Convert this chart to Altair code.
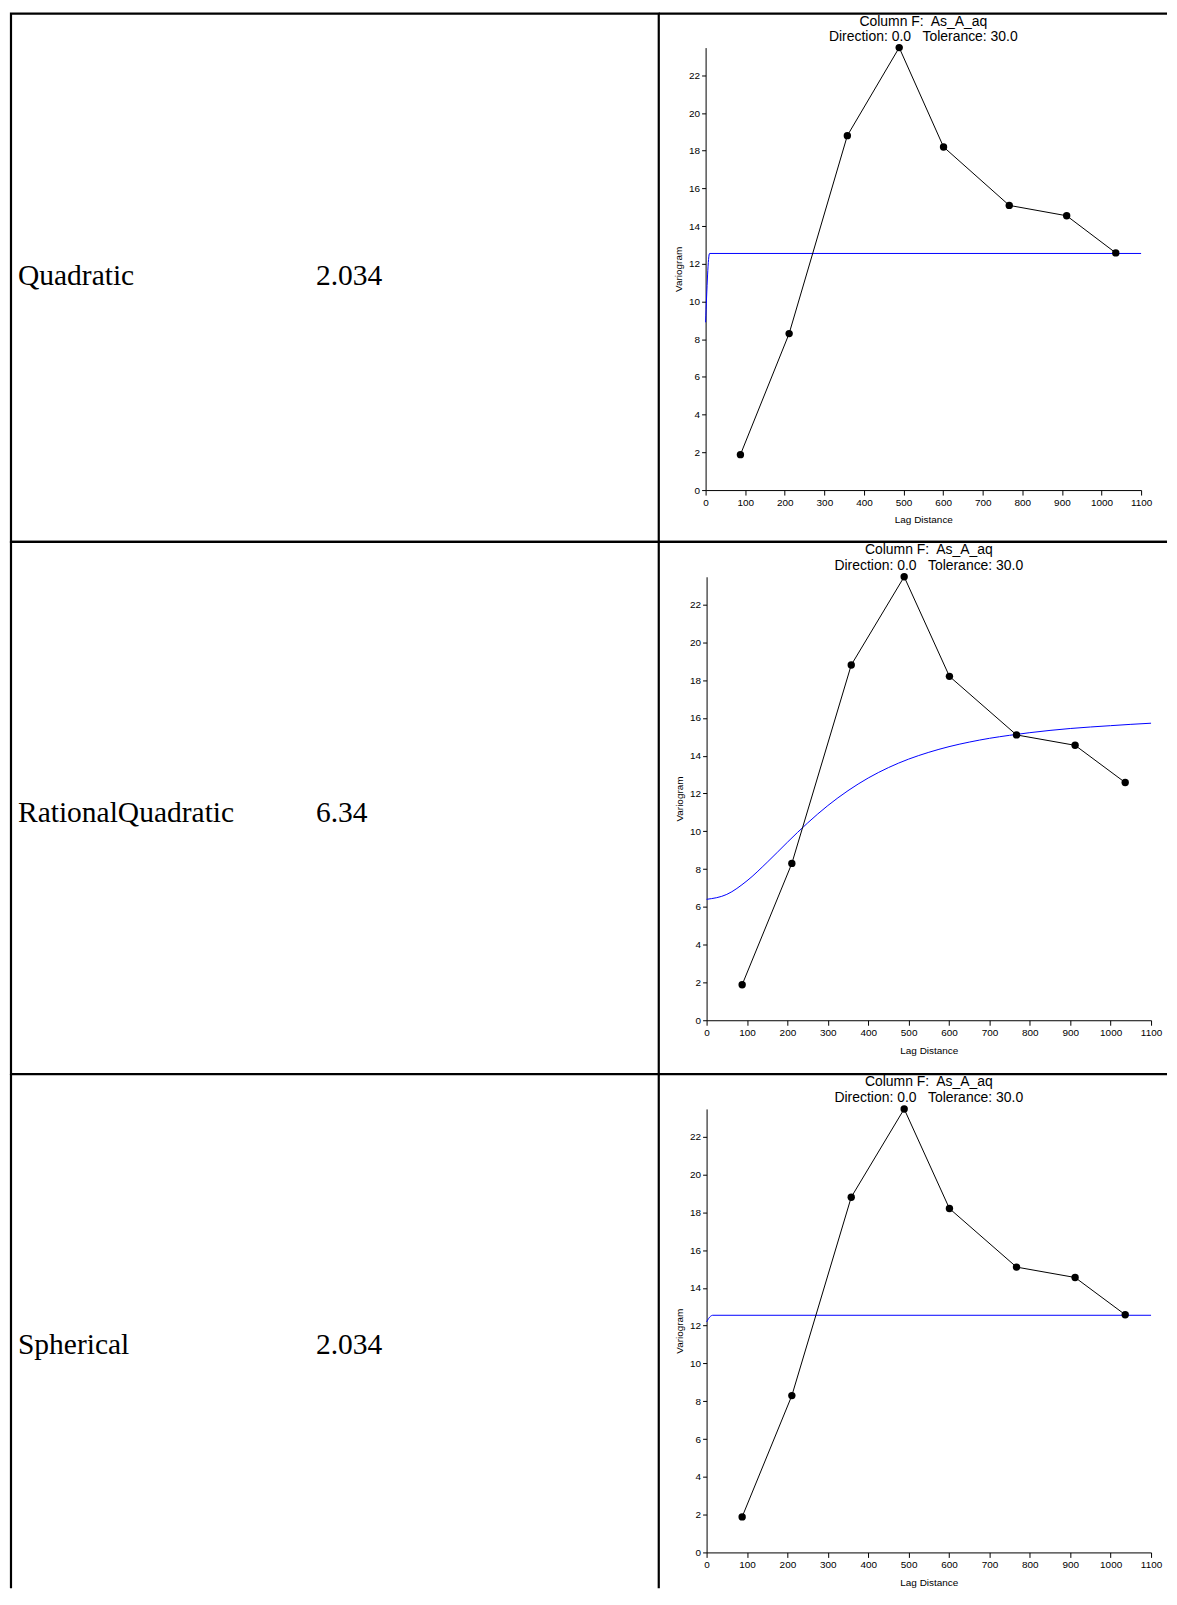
import altair as alt
import pandas as pd

# ---- data ----
lags = [88, 211, 358, 489, 601, 767, 912, 1036]
gammas = [1.88, 8.3, 18.8, 23.47, 18.2, 15.1, 14.55, 12.58]

models = ["Quadratic", "RationalQuadratic", "Spherical"]
scores = ["2.034", "6.34", "2.034"]

quad_lag = [0, 10, 1100]
quad_gamma = [8.9, 12.55, 12.55]

rq_lag = [0, 50, 100, 150, 200, 250, 300, 350, 400, 450, 500, 550,
          600, 650, 700, 750, 800, 850, 900, 950, 1000, 1050, 1100]
rq_gamma = [6.40, 6.66, 7.38, 8.36, 9.42, 10.44, 11.36, 12.15, 12.82, 13.37,
            13.82, 14.18, 14.48, 14.72, 14.92, 15.08, 15.22, 15.34, 15.44,
            15.52, 15.59, 15.66, 15.72]

sph_lag = [0, 5, 10, 15, 1100]
sph_gamma = [12.2, 12.38, 12.5, 12.55, 12.55]

x_ticks = [0, 100, 200, 300, 400, 500, 600, 700, 800, 900, 1000, 1100]
y_ticks = [0, 2, 4, 6, 8, 10, 12, 14, 16, 18, 20, 22]

title_line1 = "Column F:\u00a0 As_A_aq"
title_line2 = "Direction: 0.0\u00a0\u00a0 Tolerance: 30.0"

model_curves = [(quad_lag, quad_gamma), (rq_lag, rq_gamma), (sph_lag, sph_gamma)]

# ---- layout ----
HS = [530, 534, 516]          # row heights
WL = 650
WR = 510
Y0S = [478, 480, 480]         # pixel of gamma = 0 inside each cell
Y1S = [34, 35, 35]            # pixel of the axis top inside each cell
X0S = [47, 48, 48]
X1S = [484, 494, 494]
TITLE_Y = [(8.5, 23.5), (8, 24), (8, 24)]
TEXT_Y = [263, 272, 272]
BW = 2.2                      # table border width
SANS = "Liberation Sans"
SERIF = "Liberation Serif"

obs = pd.DataFrame({"lag": lags, "gamma": gammas})
one = pd.DataFrame({"k": [0]})


def left_cell(i):
    H = HS[i]
    df = pd.DataFrame({"model": [models[i]], "score": [scores[i]]})
    base = alt.Chart(df)
    name = base.mark_text(align="left", baseline="middle", font=SERIF,
                          fontSize=29.6, color="black").encode(
        x=alt.value(7), y=alt.value(TEXT_Y[i]), text="model:N")
    score = base.mark_text(align="left", baseline="middle", font=SERIF,
                           fontSize=29.6, color="black").encode(
        x=alt.value(306), y=alt.value(TEXT_Y[i]), text="score:N")
    layers = [name, score]
    if i < 2:
        return alt.layer(*layers).properties(
            width=WL, height=H,
            view=alt.ViewBackground(stroke="black", strokeWidth=BW))
    # last row: only the side borders (the table continues below the page)
    for xv in (0, WL):
        layers.append(alt.Chart(one).mark_rule(color="black", strokeWidth=BW).encode(
            x=alt.value(xv), y=alt.value(0), y2=alt.value(H)))
    return alt.layer(*layers).properties(width=WL, height=H)


def right_cell(i):
    H = HS[i]
    x0, x1 = X0S[i], X1S[i]
    y0, y1 = Y0S[i], Y1S[i]
    ty1, ty2 = TITLE_Y[i]
    xs = alt.Scale(domain=[0, 1100], range=[x0, x1], nice=False, zero=False)
    ys = alt.Scale(domain=[0, max(gammas)], range=[y0, y1], nice=False, zero=False)
    xax = alt.Axis(values=x_ticks, format="d", offset=-(H - y0), title="Lag Distance",
                   labelFlush=False, labelOverlap=False, grid=False,
                   tickSize=5, labelPadding=2, titlePadding=8,
                   labelFont=SANS, labelFontSize=10, titleFont=SANS,
                   titleFontSize=10, titleFontWeight="normal",
                   domainColor="black", tickColor="black",
                   labelColor="black", titleColor="black")
    yax = alt.Axis(values=y_ticks, format="d", offset=-x0, title="Variogram",
                   labelFlush=False, labelOverlap=False, grid=False,
                   tickSize=4, labelPadding=2, titlePadding=5,
                   labelFont=SANS, labelFontSize=10, titleFont=SANS,
                   titleFontSize=10, titleFontWeight="normal",
                   domainColor="black", tickColor="black",
                   labelColor="black", titleColor="black")
    mlag, mgam = model_curves[i]
    mdf = pd.DataFrame({"lag": mlag, "gamma": mgam})

    model_line = alt.Chart(mdf).mark_line(color="#0000ff", strokeWidth=1,
                                          interpolate="monotone").encode(
        x=alt.X("lag:Q", scale=xs, axis=xax),
        y=alt.Y("gamma:Q", scale=ys, axis=yax))
    obs_line = alt.Chart(obs).mark_line(color="black", strokeWidth=1).encode(
        x=alt.X("lag:Q", scale=xs, axis=xax),
        y=alt.Y("gamma:Q", scale=ys, axis=yax))
    pts = alt.Chart(obs).mark_point(filled=True, color="black", size=55,
                                    opacity=1).encode(
        x=alt.X("lag:Q", scale=xs, axis=xax),
        y=alt.Y("gamma:Q", scale=ys, axis=yax))

    tdf = pd.DataFrame({"t1": [title_line1], "t2": [title_line2]})
    t1 = alt.Chart(tdf).mark_text(font=SANS, fontSize=14, align="center",
                                  baseline="middle", color="black").encode(
        x=alt.value((x0 + x1) / 2), y=alt.value(ty1), text="t1:N")
    t2 = alt.Chart(tdf).mark_text(font=SANS, fontSize=14, align="center",
                                  baseline="middle", color="black").encode(
        x=alt.value((x0 + x1) / 2), y=alt.value(ty2), text="t2:N")
    layers = [model_line, obs_line, pts, t1, t2]
    if i < 2:
        for yv in (0, H):
            layers.append(alt.Chart(one).mark_rule(color="black", strokeWidth=BW).encode(
                x=alt.value(0), x2=alt.value(WR), y=alt.value(yv)))
    return alt.layer(*layers).properties(width=WR, height=H)


cells = []
for i in range(3):
    cells.append(left_cell(i))
    cells.append(right_cell(i))

chart = alt.concat(*cells, columns=2, spacing=0, bounds="flush").properties(
    padding={"left": 1, "top": 1, "right": 0, "bottom": 1},
    background="white",
).configure_view(stroke="transparent")

chart.save("out.html", embed_options={"renderer": "svg", "actions": False})
